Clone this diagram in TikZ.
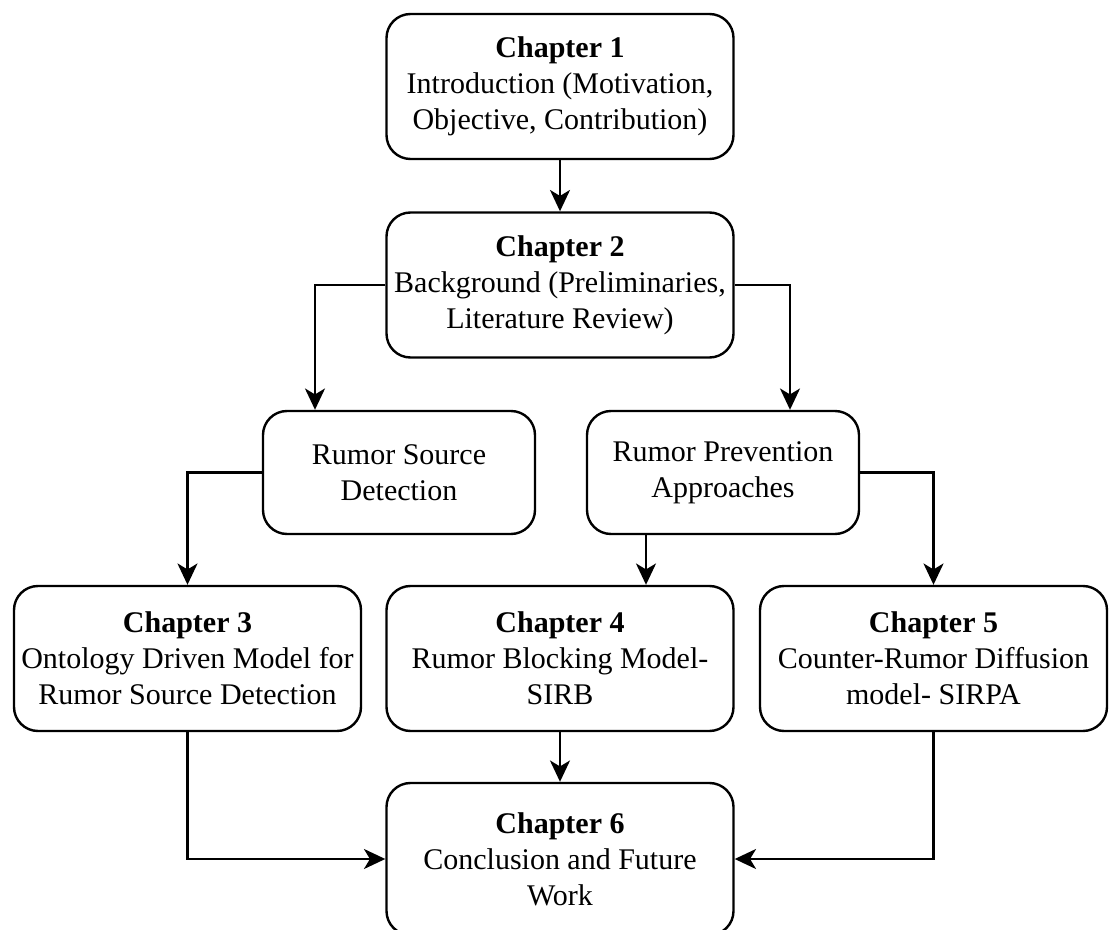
\documentclass[tikz,border=0pt]{standalone}
\usepackage{fontspec}
\setmainfont{Liberation Serif}
\usetikzlibrary{arrows.meta,calc}
\begin{document}
\begin{tikzpicture}[x=0.75pt,y=-0.75pt,
  box/.style={draw=black,line width=1.8pt,rounded corners=18pt,align=center,
    inner sep=0pt,font=\fontsize{22.5}{27}\selectfont},
  chap/.style={box,minimum width=260.25pt,minimum height=108.75pt},
  mid/.style={box,minimum width=204pt,minimum height=92.25pt},
  arr/.style={line width=1.8pt,-{Stealth[length=16pt,width=15pt,inset=4.5pt]}}]
\useasboundingbox (0,0) rectangle (1111,930);
\node[chap] (ch1) at (560,86.5) {\textbf{Chapter 1}\\Introduction (Motivation,\\Objective, Contribution)};
\node[chap] (ch2) at (560,285) {\textbf{Chapter 2}\\Background (Preliminaries,\\Literature Review)};
\node[mid] (rsd) at (399,472.5) {Rumor Source\\Detection};
\node[mid] (rpa) at (723,472.5) {Rumor Prevention\\Approaches};
\node[chap] (ch3) at (187.5,658.5) {\textbf{Chapter 3}\\Ontology Driven Model for\\Rumor Source Detection};
\node[chap] (ch4) at (560,658.5) {\textbf{Chapter 4}\\Rumor Blocking Model-\\SIRB};
\node[chap] (ch5) at (933.5,658.5) {\textbf{Chapter 5}\\Counter-Rumor Diffusion\\model- SIRPA};
\node[chap,minimum height=114pt] (ch6) at (560,859) {\textbf{Chapter 6}\\Conclusion and Future\\Work};
\coordinate (rsdin) at ($(rsd.north)+(-84,0)$);
\coordinate (rpain) at ($(rpa.north)+(67,0)$);
\coordinate (rpaout) at ($(rpa.south)+(-77,0)$);
\draw[arr] (ch1) -- (ch2);
\draw[arr] (ch2.west) -| (rsdin);
\draw[arr] (ch2.east) -| (rpain);
\draw[arr] (rsd.west) -| (ch3.north);
\draw[arr] (rpaout) -- (rpaout |- ch4.north);
\draw[arr] (rpa.east) -| (ch5.north);
\draw[arr] (ch4) -- (ch6);
\draw[arr] (ch3.south) |- (ch6.west);
\draw[arr] (ch5.south) |- (ch6.east);
\end{tikzpicture}
\end{document}
